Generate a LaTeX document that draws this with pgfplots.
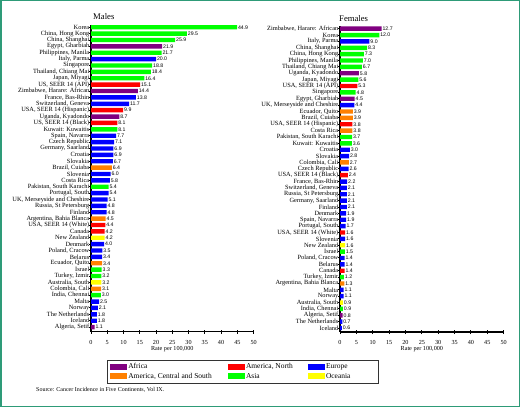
\documentclass[border=0pt]{standalone}
\usepackage{pgfplots}
\pgfplotsset{compat=1.18}
\usepackage{pgfplotstable}
\usepackage{fontspec}
\setmainfont{Liberation Serif}
\newfontfamily\arialf{Liberation Sans}
\definecolor{cAfrica}{RGB}{128,0,128}
\definecolor{cAmN}{RGB}{255,0,0}
\definecolor{cEur}{RGB}{0,0,255}
\definecolor{cAmCS}{RGB}{255,128,0}
\definecolor{cAsia}{RGB}{0,255,0}
\definecolor{cOce}{RGB}{255,255,0}
\definecolor{frameC}{RGB}{46,155,120}

% region: 1 Africa, 2 America North, 3 Europe, 4 America Central/South, 5 Asia, 6 Oceania
\pgfplotstableread{
y v r
0 44.9 5
1 29.5 5
2 25.9 5
3 21.9 1
4 21.7 5
5 20.0 3
6 18.8 5
7 18.4 5
8 16.4 5
9 15.1 2
10 14.4 1
11 13.8 3
12 11.7 3
13 9.9 2
14 8.7 1
15 8.1 2
16 8.1 5
17 7.7 3
18 7.1 3
19 6.9 3
20 6.9 3
21 6.7 3
22 6.4 4
23 6.0 3
24 5.8 3
25 5.4 5
26 5.4 3
27 5.1 3
28 4.8 3
29 4.8 3
30 4.5 4
31 4.4 2
32 4.2 2
33 4.2 6
34 4.0 3
35 3.5 3
36 3.4 3
37 3.4 4
38 3.3 5
39 3.2 5
40 3.2 6
41 3.1 4
42 3.0 5
43 2.5 3
44 2.1 3
45 1.8 3
46 1.8 3
47 1.1 1
}\males

\pgfplotstableread{
y v r
0 12.7 1
1 12.0 5
2 9.0 3
3 8.3 5
4 7.3 5
5 7.0 5
6 6.7 5
7 5.8 1
8 5.6 5
9 5.3 2
10 4.8 5
11 4.5 1
12 4.4 3
13 3.9 4
14 3.9 4
15 3.8 2
16 3.8 4
17 3.7 5
18 3.6 5
19 3.0 3
20 2.8 3
21 2.7 4
22 2.6 3
23 2.4 2
24 2.2 3
25 2.1 3
26 2.1 3
27 2.1 3
28 2.1 3
29 1.9 3
30 1.9 3
31 1.7 3
32 1.6 2
33 1.6 3
34 1.6 6
35 1.5 5
36 1.4 3
37 1.4 3
38 1.4 2
39 1.2 5
40 1.3 4
41 1.1 3
42 1.1 3
43 0.9 6
44 0.9 5
45 0.8 1
46 0.7 3
47 0.6 3
}\females

\pgfplotsset{
  regbar/.style={xbar, bar width=4.4bp, bar shift=0pt, draw=none, fill=#1},
  panel/.style={
    scale only axis, anchor=center, clip=false,
    xmin=0, xmax=50, ymin=-0.4,
    y dir=reverse,
    axis x line*=bottom, axis y line*=left,
    axis line style={line width=1.2bp, black, -},
    x axis line style={-}, y axis line style={-},
    xtick={0,5,...,50}, ytick={0,1,...,47},
    tick align=center, major tick length=4bp,
    major tick style={line width=1bp, black},
    /pgf/number format/assume math mode=true,
    xticklabel style={font=\fontsize{6.2}{7}\selectfont, inner sep=0pt, anchor=north, yshift=-6.5bp},
    yticklabel style={font=\fontsize{6.4}{6.4}\selectfont, inner xsep=0.5bp, inner ysep=0pt, xshift=1bp},
    xlabel={Rate per 100,000},
    xlabel style={at={(axis description cs:0.5,-0.057)}, anchor=center, font=\fontsize{6.2}{7}\selectfont, inner sep=0pt},
    point meta=x,
    nodes near coords={\pgfmathprintnumber[fixed,fixed zerofill,precision=1]{\pgfplotspointmeta}},
    every node near coord/.append style={font=\arialf\fontsize{5.2}{6}\selectfont, inner sep=0.8bp, anchor=west, black},
    legend image code/.code={\fill[##1] (0bp,-3bp) rectangle (17bp,3bp);},
  },
}

\begin{document}
\begin{tikzpicture}
\path[use as bounding box] (0,0) rectangle (520bp,407bp);
\fill[white] (0,0) rectangle (520bp,407bp);
\draw[frameC, line width=1.5bp] (0.75bp,0.75bp) rectangle (519.25bp,406.25bp);

\begin{axis}[panel,
  at={(172.3bp,228.75bp)}, width=162.6bp, height=307.1bp, ymax=47.74,
  yticklabels={{Korea},{China, Hong Kong},{China, Shanghai},{Egypt, Gharbiah},{Philippines, Manila},{Italy, Parma},{Singapore},{Thailand, Chiang Mai},{Japan, Miyagi},{US, SEER 14 (API)},{Zimbabwe, Harare: African},{France, Bas-Rhin},{Switzerland, Geneva},{USA, SEER 14 (Hispanic)},{Uganda, Kyadondo},{US, SEER 14 (Black)},{Kuwait: Kuwaitis},{Spain, Navarra},{Czech Republic},{Germany, Saarland},{Croatia},{Slovakia},{Brazil, Cuiaba},{Slovenia},{Costa Rica},{Pakistan, South Karachi},{Portugal, South},{UK, Merseyside and Cheshire},{Russia, St Petersburg},{Finland},{Argentina, Bahia Blanca},{USA, SEER 14 (White)},{Canada},{New Zealand},{Denmark},{Poland, Cracow},{Belarus},{Ecuador, Quito},{Israel},{Turkey, Izmir},{Australia, South},{Colombia, Cali},{India, Chennai},{Malta},{Norway},{The Netherlands},{Iceland},{Algeria, Setif}},
  legend columns=3,
  legend cell align=left,
  legend style={
    at={(axis description cs:0.098,-0.0912)}, anchor=north west,
    draw=black!80, line width=0.8bp,
    font=\fontsize{7.5}{8.5}\selectfont,
    inner xsep=3bp, inner ysep=2.2bp,
    column sep=0pt, row sep=0.3bp,
    nodes={inner xsep=1bp, inner ysep=1bp, text height=5.5bp, text depth=1.5bp},
  },
]
\addplot[regbar=cAfrica, restrict expr to domain={\thisrow{r}}{0.5:1.5}] table[x=v,y=y]{\males};
\addlegendentry{\makebox[98.7bp][l]{Africa}}
\addplot[regbar=cAmN, restrict expr to domain={\thisrow{r}}{1.5:2.5}] table[x=v,y=y]{\males};
\addlegendentry{\makebox[61bp][l]{America, North}}
\addplot[regbar=cEur, restrict expr to domain={\thisrow{r}}{2.5:3.5}] table[x=v,y=y]{\males};
\addlegendentry{\makebox[48bp][l]{Europe}}
\addplot[regbar=cAmCS, restrict expr to domain={\thisrow{r}}{3.5:4.5}] table[x=v,y=y]{\males};
\addlegendentry{\makebox[98.7bp][l]{America, Central and South}}
\addplot[regbar=cAsia, restrict expr to domain={\thisrow{r}}{4.5:5.5}] table[x=v,y=y]{\males};
\addlegendentry{\makebox[61bp][l]{Asia}}
\addplot[regbar=cOce, restrict expr to domain={\thisrow{r}}{5.5:6.5}] table[x=v,y=y]{\males};
\addlegendentry{\makebox[48bp][l]{Oceania}}
\end{axis}

\begin{axis}[panel,
  at={(421.85bp,227.9bp)}, width=163.7bp, height=305.9bp, ymax=47.63,
  yticklabels={{Zimbabwe, Harare: African},{Korea},{Italy, Parma},{China, Shanghai},{China, Hong Kong},{Philippines, Manila},{Thailand, Chiang Mai},{Uganda, Kyadondo},{Japan, Miyagi},{USA, SEER 14 (API)},{Singapore},{Egypt, Gharbiah},{UK, Merseyside and Cheshire},{Ecuador, Quito},{Brazil, Cuiaba},{USA, SEER 14 (Hispanic)},{Costa Rica},{Pakistan, South Karachi},{Kuwait: Kuwaitis},{Croatia},{Slovakia},{Colombia, Cali},{Czech Republic},{USA, SEER 14 (Black)},{France, Bas-Rhin},{Switzerland, Geneva},{Russia, St Petersburg},{Germany, Saarland},{Finland},{Denmark},{Spain, Navarra},{Portugal, South},{USA, SEER 14 (White)},{Slovenia},{New Zealand},{Israel},{Poland, Cracow},{Belarus},{Canada},{Turkey, Izmir},{Argentina, Bahia Blanca},{Malta},{Norway},{Australia, South},{India, Chennai},{Algeria, Setif},{The Netherlands},{Iceland}},
]
\addplot[regbar=cAfrica, restrict expr to domain={\thisrow{r}}{0.5:1.5}] table[x=v,y=y]{\females};
\addplot[regbar=cAmN, restrict expr to domain={\thisrow{r}}{1.5:2.5}] table[x=v,y=y]{\females};
\addplot[regbar=cEur, restrict expr to domain={\thisrow{r}}{2.5:3.5}] table[x=v,y=y]{\females};
\addplot[regbar=cAmCS, restrict expr to domain={\thisrow{r}}{3.5:4.5}] table[x=v,y=y]{\females};
\addplot[regbar=cAsia, restrict expr to domain={\thisrow{r}}{4.5:5.5}] table[x=v,y=y]{\females};
\addplot[regbar=cOce, restrict expr to domain={\thisrow{r}}{5.5:6.5}] table[x=v,y=y]{\females};
\end{axis}

\node[anchor=base west, font=\fontsize{8.7}{9}\selectfont, inner sep=0pt] at (93bp,387.7bp) {Males};
\node[anchor=base west, font=\fontsize{8.7}{9}\selectfont, inner sep=0pt] at (339bp,385.3bp) {Females};
\node[anchor=west, font=\fontsize{6}{7}\selectfont, inner sep=0pt] at (36bp,17bp) {Source: Cancer Incidence in Five Continents, Vol IX.};
\end{tikzpicture}
\end{document}
